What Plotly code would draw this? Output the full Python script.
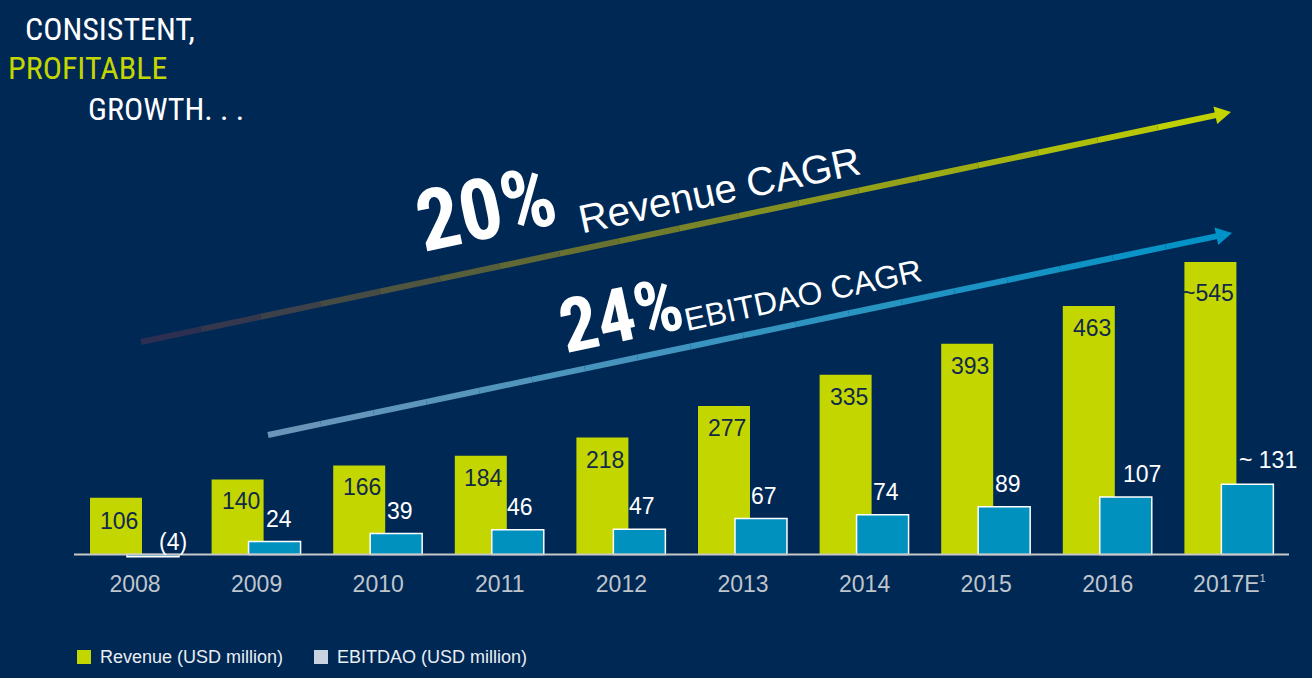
import plotly.graph_objects as go

# ---------------- data ----------------
years = ["2008", "2009", "2010", "2011", "2012", "2013", "2014", "2015", "2016", "2017E"]
tick_text = ["2008", "2009", "2010", "2011", "2012", "2013", "2014", "2015", "2016",
             "2017E<sup><span style='font-size:11px'>1</span></sup>"]
revenue = [106, 140, 166, 184, 218, 277, 335, 393, 463, 545]
revenue_labels = ["106", "140", "166", "184", "218", "277", "335", "393", "463", "~545"]
ebitdao = [-4, 24, 39, 46, 47, 67, 74, 89, 107, 131]
ebitdao_labels = ["(4)", "24", "39", "46", "47", "67", "74", "89", "107", "~ 131"]

# label fine offsets (pixels, style only)
rev_label_dx = [3, 3, 3, 3, 3, 3, 3, 3, 3, -2]
rev_label_dy = [-1, 0, 0, 0, 0, 0, 0, 0, 0, -9]
ebit_label_dx = [20, 4, 4, 2, 3, 3, 3, 4, 16, 21]
ebit_label_dy = [-10, 0, 0, 0, 0, 0, 0, 0, 0, 1]

# ---------------- style ----------------
W, H = 1312, 678
MB = 118
PH = H - MB
BG = "#002855"
GREEN = "#C4D600"
BLUE = "#0091BF"
LABEL_DARK = "#10294A"
TICK_GREY = "#BFC5CC"
ARIAL = "Arial, Liberation Sans, Helvetica, sans-serif"
NARROW = "Liberation Sans Narrow, Arial Narrow, Roboto Condensed, DejaVu Sans Condensed, sans-serif"

UNIT = 121.6          # px per category
BAR_W = 0.4276
REV_OFF = -0.370
EBIT_OFF = -0.066
SCALE = 0.5365        # px per USD million
BASE_PX = 554.5


def px(x):
    return x / W


def py(y):
    return 1 - y / PH


idx = list(range(len(years)))

fig = go.Figure()
fig.add_bar(x=years, y=revenue, width=BAR_W, offset=REV_OFF,
            marker=dict(color=GREEN, line=dict(width=0)),
            showlegend=False, hoverinfo="skip")
fig.add_bar(x=years, y=ebitdao, width=BAR_W, offset=EBIT_OFF,
            marker=dict(color=BLUE, line=dict(color="white", width=1.5)),
            showlegend=False, hoverinfo="skip")

annotations = []
rev_center_px = (REV_OFF + BAR_W / 2) * UNIT
ebit_center_px = (EBIT_OFF + BAR_W / 2) * UNIT
for i in idx:
    annotations.append(dict(x=i, y=revenue[i], xref="x", yref="y", text=revenue_labels[i],
                            showarrow=False, xanchor="center", yanchor="top",
                            xshift=rev_center_px + rev_label_dx[i], yshift=-7 + rev_label_dy[i],
                            font=dict(family=ARIAL, size=23, color=LABEL_DARK)))
    annotations.append(dict(x=i, y=max(ebitdao[i], 0), xref="x", yref="y", text=ebitdao_labels[i],
                            showarrow=False, xanchor="center", yanchor="bottom",
                            xshift=ebit_center_px + ebit_label_dx[i], yshift=8 + ebit_label_dy[i],
                            font=dict(family=ARIAL, size=23, color="white")))

# title
title_lines = [("CONSISTENT,", 23, 29, "white"), ("PROFITABLE", 6, 68, GREEN), ("GROWTH. . .", 86, 109, "white")]
for t, x0, yc, col in title_lines:
    annotations.append(dict(x=px(x0), y=py(yc), xref="paper", yref="paper", text=t, showarrow=False,
                            xanchor="left", yanchor="middle",
                            font=dict(family=NARROW, size=32, color=col)))

# CAGR texts
annotations += [
    dict(x=px(486), y=py(209), xref="paper", yref="paper", text="<b>20%</b>", showarrow=False,
         textangle=-12, xanchor="center", yanchor="middle",
         font=dict(family=NARROW, size=85, color="white")),
    dict(x=px(719), y=py(190), xref="paper", yref="paper", text="Revenue CAGR", showarrow=False,
         textangle=-12, xanchor="center", yanchor="middle",
         font=dict(family=ARIAL, size=40, color="white")),
    dict(x=px(621), y=py(315), xref="paper", yref="paper", text="<b>24%</b>", showarrow=False,
         textangle=-12, xanchor="center", yanchor="middle",
         font=dict(family=NARROW, size=75, color="white")),
    dict(x=px(803), y=py(295), xref="paper", yref="paper", text="EBITDAO CAGR", showarrow=False,
         textangle=-12, xanchor="center", yanchor="middle",
         font=dict(family=ARIAL, size=32, color="white")),
]

# legend (manual)
legend_items = [("Revenue (USD million)", 77, GREEN), ("EBITDAO (USD million)", 314, "#C9D3DF")]
shapes = []
for name, x0, col in legend_items:
    shapes.append(dict(type="rect", xref="paper", yref="paper", x0=px(x0), x1=px(x0 + 14),
                       y0=py(650), y1=py(664), fillcolor=col, line=dict(width=0)))
    annotations.append(dict(x=px(x0 + 21), y=py(657), xref="paper", yref="paper", text=name,
                            showarrow=False, xanchor="left", yanchor="middle",
                            font=dict(family=ARIAL, size=18, color="#E8EEF4")))

# baseline
shapes.append(dict(type="line", xref="paper", yref="y", x0=px(74), x1=px(1289), y0=0, y1=0,
                   line=dict(color="#C8C8C8", width=2), layer="above"))


# gradient arrows
def arrow(x0, y0, x1, y1, c0, c1, n=18, width=6, head_len=16, head_half=9):
    dx, dy = x1 - x0, y1 - y0
    L = (dx * dx + dy * dy) ** 0.5
    ux, uy = dx / L, dy / L
    nx, ny = -uy, ux
    bx, by = x1 - head_len * ux, y1 - head_len * uy
    out = []
    for k in range(n):
        f0, f1 = k / n, (k + 1) / n
        xa, ya = x0 + (bx + ux * 2 - x0) * f0, y0 + (by + uy * 2 - y0) * f0
        xb, yb = x0 + (bx + ux * 2 - x0) * f1, y0 + (by + uy * 2 - y0) * f1
        fm = (f0 + f1) / 2
        col = "rgb(%d,%d,%d)" % tuple(int(c0[j] + (c1[j] - c0[j]) * fm) for j in range(3))
        out.append(dict(type="line", xref="paper", yref="paper", x0=px(xa), y0=py(ya),
                        x1=px(xb), y1=py(yb), line=dict(color=col, width=width)))
    pts = [(x1, y1), (bx + head_half * nx, by + head_half * ny), (bx - head_half * nx, by - head_half * ny)]
    path = "M %f,%f L %f,%f L %f,%f Z" % tuple(v for p in pts for v in (px(p[0]), py(p[1])))
    out.append(dict(type="path", xref="paper", yref="paper", path=path,
                    fillcolor="rgb(%d,%d,%d)" % c1, line=dict(width=0)))
    return out


shapes += arrow(141, 342, 1231, 112, (40, 42, 85), (196, 214, 0))
shapes += arrow(268, 435, 1232, 233, (110, 150, 185), (0, 147, 200))

fig.update_layout(
    width=W, height=H,
    margin=dict(l=0, r=0, t=0, b=MB, pad=0),
    paper_bgcolor=BG, plot_bgcolor=BG,
    barmode="overlay",
    showlegend=False,
    xaxis=dict(type="category", range=[-135 / UNIT, (W - 135) / UNIT], tickvals=years, ticktext=tick_text,
               showgrid=False, zeroline=False, showline=False, ticks="",
               tickfont=dict(family=ARIAL, size=23, color=TICK_GREY), ticklabelstandoff=8),
    yaxis=dict(range=[-(PH - BASE_PX) / SCALE, BASE_PX / SCALE], visible=False, showgrid=False, zeroline=False),
    annotations=annotations,
    shapes=shapes,
)

fig.write_html("out.html", config={"displayModeBar": False},
               post_script="document.body.style.margin='0';")
